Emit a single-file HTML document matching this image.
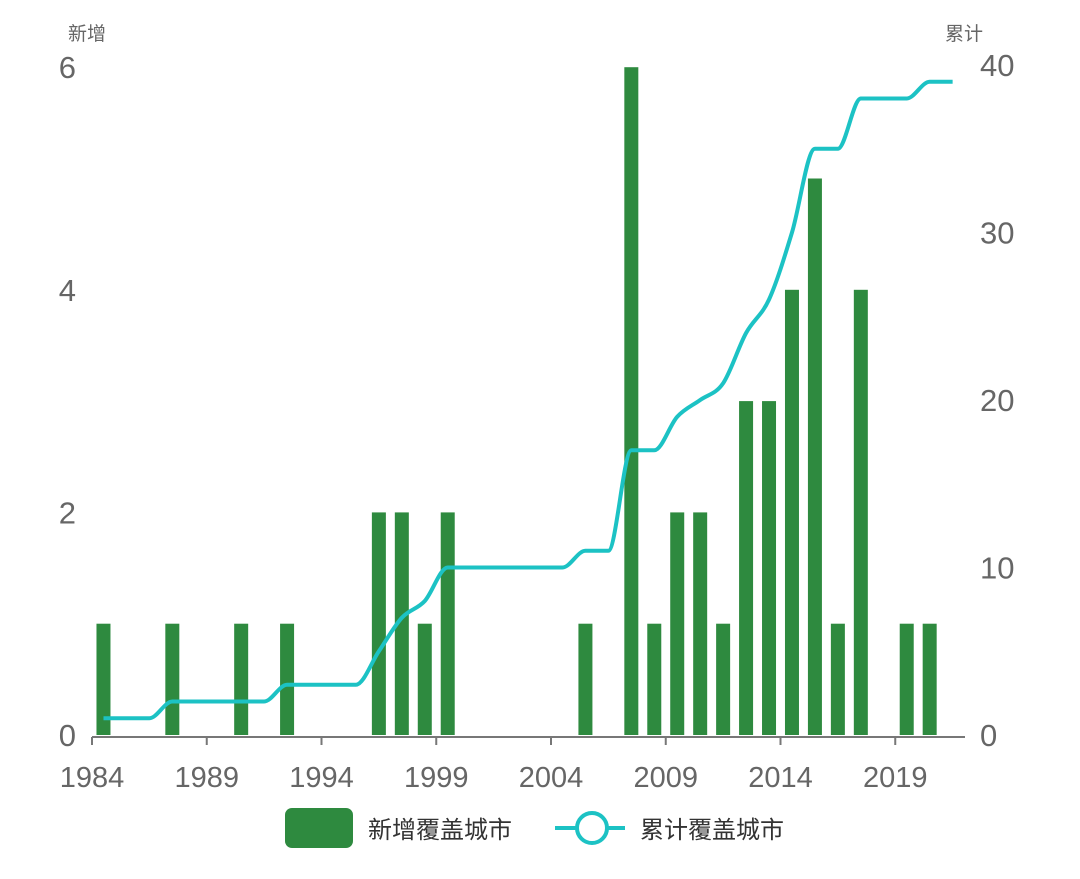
<!DOCTYPE html>
<html><head><meta charset="utf-8"><style>
body{margin:0;background:#fff;}
svg text{font-family:"Liberation Sans","Noto Sans CJK SC",sans-serif;fill:#666;}
</style></head><body>
<svg id="chart" width="1080" height="874" xmlns="http://www.w3.org/2000/svg">
<g id="bars"></g>
<g id="axes"></g>
<path id="cumline" fill="none" stroke="#1cc2c4" stroke-width="4"/>
<text x="68" y="40" font-size="19">新增</text>
<text x="945" y="40" font-size="19">累计</text>
<g>
<rect x="285" y="808" width="68" height="40" rx="7" fill="#2e8a3f"/>
<text x="368" y="838" font-size="24" fill="#333" style="fill:#333">新增覆盖城市</text>
<line x1="555" y1="828" x2="625" y2="828" stroke="#1cc2c4" stroke-width="4"/>
<circle cx="592" cy="828" r="15" fill="#fff" stroke="#1cc2c4" stroke-width="4"/>
<text x="640" y="838" font-size="24" style="fill:#333">累计覆盖城市</text>
</g>
</svg>
<script>
const years=[];for(let y=1984;y<=2021;y++)years.push(y);
const newYears=[1984,1987,1990,1992,1996,1997,1998,1999,2005,2007,2008,2009,2010,2011,2012,2013,2014,2015,2016,2017,2019,2020];
const newValues=[1,1,1,1,2,2,1,2,1,6,1,2,2,1,3,3,4,5,1,4,1,1];
const cumValues=[1,1,1,2,2,2,2,2,3,3,3,3,5,7,8,10,10,10,10,10,10,11,11,17,17,19,20,21,24,26,30,35,35,38,38,38,39,39];
const leftTicks=[0,2,4,6];
const rightTicks=[0,10,20,30,40];
const xTicks=[1984,1989,1994,1999,2004,2009,2014,2019];

const NS="http://www.w3.org/2000/svg";
const x0=92,bw=22.95,yb=735;
const xs=y=>x0+(y-1984)*bw;
const xc=y=>xs(y)+bw/2;
const yl=v=>yb-v*111.3;
const yr=v=>yb-v*16.75;
function mk(t,a,p){const e=document.createElementNS(NS,t);for(const k in a)e.setAttribute(k,a[k]);p.appendChild(e);return e;}
const bars=document.getElementById('bars'),axes=document.getElementById('axes');
newYears.forEach((y,i)=>{
 const r=mk('rect',{x:xc(y)-7,y:yl(newValues[i]),width:14,height:yb-yl(newValues[i]),fill:'#2e8a3f'},bars);
 
 
});
const ax=mk('line',{x1:x0,y1:yb+2,x2:965,y2:yb+2,stroke:'#777','stroke-width':2},axes);


xTicks.forEach(t=>{
 const l=mk('line',{x1:xs(t),y1:yb+2,x2:xs(t),y2:yb+10,stroke:'#777','stroke-width':2},axes);
 
 
 const tx=mk('text',{x:xs(t),y:787,'font-size':29,'text-anchor':'middle'},axes);tx.textContent=t;
 
 
});
leftTicks.forEach(t=>{
 const tx=mk('text',{x:76,y:yl(t)+11,'font-size':31,'text-anchor':'end'},axes);tx.textContent=t;
 
 
});
rightTicks.forEach(t=>{
 const tx=mk('text',{x:980,y:yr(t)+11,'font-size':31},axes);tx.textContent=t;
 
 
});
// monotone cubic
const P=years.map((y,i)=>[xc(y),yr(cumValues[i])]);
const n=P.length,d=[],m=[];
for(let i=0;i<n-1;i++)d.push((P[i+1][1]-P[i][1])/(P[i+1][0]-P[i][0]));
for(let i=0;i<n;i++){
 if(i==0)m.push(d[0]);else if(i==n-1)m.push(d[n-2]);
 else m.push(d[i-1]*d[i]<=0?0:(d[i-1]+d[i])/2);
}
for(let i=0;i<n-1;i++){if(d[i]==0){m[i]=0;m[i+1]=0;}else{const a=m[i]/d[i],b=m[i+1]/d[i],s=a*a+b*b;if(s>9){const t=3/Math.sqrt(s);m[i]=t*a*d[i];m[i+1]=t*b*d[i];}}}
let path='M'+P[0][0]+','+P[0][1];
for(let i=0;i<n-1;i++){const h=(P[i+1][0]-P[i][0])/3;
 path+=`C${P[i][0]+h},${P[i][1]+m[i]*h} ${P[i+1][0]-h},${P[i+1][1]-m[i+1]*h} ${P[i+1][0]},${P[i+1][1]}`;}
document.getElementById('cumline').setAttribute('d',path);
</script>
</body></html>
